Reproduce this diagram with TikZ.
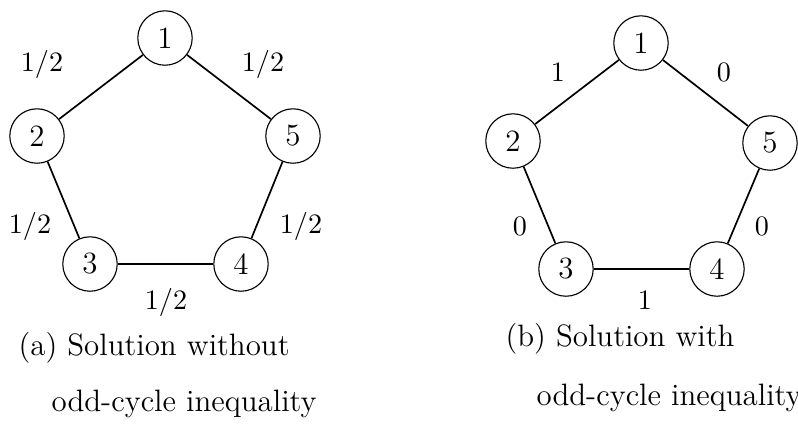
\documentclass[tikz,border=0pt]{standalone}
\usepackage{tikz}
\usetikzlibrary{positioning}
\tikzset{
  vtx/.style={draw, circle, minimum size=0.68cm, inner sep=0pt, font=\fontsize{11}{13}\selectfont},
  elab/.style={font=\normalsize, inner sep=1pt},
  capt/.style={anchor=base west, font=\fontsize{11}{13}\selectfont, inner sep=0pt},
  edge/.style={semithick},
}
\begin{document}
\begin{tikzpicture}[x=0.0125cm, y=-0.0125cm]
  \useasboundingbox (0,0) rectangle (798,436);
  % (a) without odd-cycle inequality
  \foreach \i/\x/\y in {1/165/38, 2/37/136, 3/90/264, 4/241/264, 5/293/136}
    \node[vtx] (a\i) at (\x,\y) {\i};
  \foreach \u/\v in {1/2, 2/3, 3/4, 4/5, 5/1}
    \draw[edge] (a\u) -- (a\v);
  \foreach \t/\x/\y in {12/42/64, 15/263/64, 23/30/226, 45/301/226, 34/166/302}
    \node[elab] (la\t) at (\x,\y) {$1/2$};
  \node[capt] (capa1) at (18,355) {(a) Solution without};
  \node[capt] (capa2) at (51,411) {odd-cycle inequality};
  % (b) with odd-cycle inequality
  \foreach \i/\x/\y in {1/641/43, 2/513/141, 3/566/269, 4/717/269, 5/770/143}
    \node[vtx] (b\i) at (\x,\y) {\i};
  \foreach \u/\v in {1/2, 2/3, 3/4, 4/5, 5/1}
    \draw[edge] (b\u) -- (b\v);
  \foreach \t/\w/\x/\y in {12/1/558/72, 15/0/724/72, 23/0/520/226, 45/0/762/226, 34/1/645/300}
    \node[elab] (lb\t) at (\x,\y) {$\w$};
  \node[capt] (capb1) at (505,346) {(b) Solution with};
  \node[capt] (capb2) at (536,405) {odd-cycle inequality};
\end{tikzpicture}
\end{document}
